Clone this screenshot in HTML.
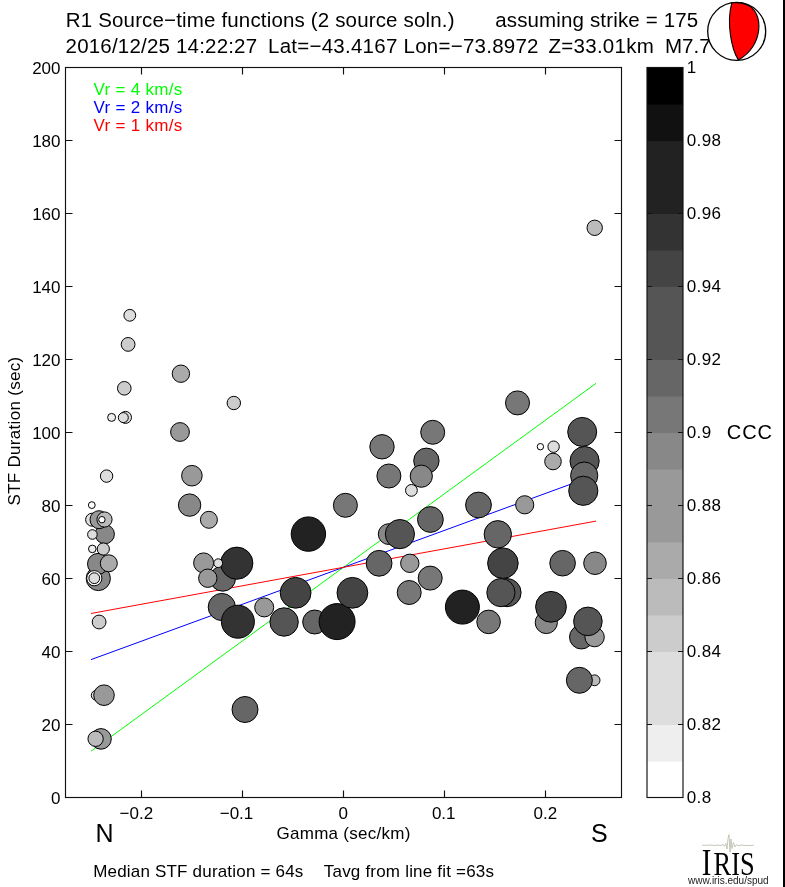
<!DOCTYPE html><html><head><meta charset="utf-8"><style>html,body{margin:0;padding:0;background:#fff;width:785px;height:887px;overflow:hidden}svg{display:block;will-change:transform}text{font-family:"Liberation Sans",sans-serif;fill:#000;white-space:pre}</style></head><body>
<svg width="785" height="887" viewBox="0 0 785 887">
<rect width="785" height="887" fill="#fff"/>
<text x="65.80" y="26.90" font-size="20.5" letter-spacing="0.16">R1 Source−time functions (2 source soln.)</text>
<text x="495.20" y="26.90" font-size="20.5" letter-spacing="0.15">assuming strike = 175</text>
<text x="65.60" y="52.60" font-size="20.5" letter-spacing="0.19">2016/12/25 14:22:27</text>
<text x="268.00" y="52.60" font-size="20.5" letter-spacing="0.25">Lat=−43.4167 Lon=−73.8972</text>
<text x="548.50" y="52.60" font-size="20.5" letter-spacing="0.27">Z=33.01km</text>
<text x="665.00" y="52.60" font-size="20.5">M7.7</text>
<line x1="91.00" y1="751.25" x2="596.00" y2="383.33" stroke="#00ff00" stroke-width="1.0"/>
<line x1="91.00" y1="659.64" x2="596.00" y2="474.95" stroke="#0000ff" stroke-width="1.0"/>
<line x1="91.00" y1="613.47" x2="596.00" y2="521.12" stroke="#ff0000" stroke-width="1.0"/>
<text x="93.50" y="94.50" font-size="17" letter-spacing="0.30" style="fill:#00ff00">Vr = 4 km/s</text>
<text x="93.50" y="112.90" font-size="17" letter-spacing="0.30" style="fill:#0000ff">Vr = 2 km/s</text>
<text x="93.50" y="131.20" font-size="17" letter-spacing="0.30" style="fill:#ff0000">Vr = 1 km/s</text>
<circle cx="129.8" cy="315.3" r="5.90" fill="rgb(221,221,221)" stroke="#000" stroke-width="1"/>
<circle cx="128.1" cy="344.4" r="6.90" fill="rgb(204,204,204)" stroke="#000" stroke-width="1"/>
<circle cx="180.9" cy="373.7" r="8.70" fill="rgb(170,170,170)" stroke="#000" stroke-width="1"/>
<circle cx="124.3" cy="388.3" r="6.80" fill="rgb(204,204,204)" stroke="#000" stroke-width="1"/>
<circle cx="233.8" cy="403.0" r="6.70" fill="rgb(204,204,204)" stroke="#000" stroke-width="1"/>
<circle cx="111.6" cy="417.4" r="4.00" fill="rgb(238,238,238)" stroke="#000" stroke-width="1"/>
<circle cx="125.5" cy="417.4" r="6.00" fill="rgb(221,221,221)" stroke="#000" stroke-width="1"/>
<circle cx="123.3" cy="417.6" r="5.00" fill="rgb(221,221,221)" stroke="#000" stroke-width="1"/>
<circle cx="180.0" cy="432.0" r="9.40" fill="rgb(153,153,153)" stroke="#000" stroke-width="1"/>
<circle cx="191.9" cy="475.7" r="10.30" fill="rgb(153,153,153)" stroke="#000" stroke-width="1"/>
<circle cx="106.6" cy="476.1" r="6.20" fill="rgb(221,221,221)" stroke="#000" stroke-width="1"/>
<circle cx="91.8" cy="505.1" r="3.40" fill="rgb(255,255,255)" stroke="#000" stroke-width="1"/>
<circle cx="189.6" cy="505.1" r="11.20" fill="rgb(136,136,136)" stroke="#000" stroke-width="1"/>
<circle cx="208.9" cy="519.8" r="8.50" fill="rgb(170,170,170)" stroke="#000" stroke-width="1"/>
<circle cx="98.3" cy="578.5" r="12.10" fill="rgb(136,136,136)" stroke="#000" stroke-width="1"/>
<circle cx="98.0" cy="563.9" r="10.50" fill="rgb(136,136,136)" stroke="#000" stroke-width="1"/>
<circle cx="108.8" cy="563.3" r="8.50" fill="rgb(170,170,170)" stroke="#000" stroke-width="1"/>
<circle cx="94.3" cy="578.2" r="7.60" fill="rgb(255,255,255)" stroke="#000" stroke-width="1"/>
<circle cx="94.3" cy="578.2" r="5.40" fill="rgb(221,221,221)" stroke="#000" stroke-width="1"/>
<circle cx="104.8" cy="534.2" r="9.60" fill="rgb(136,136,136)" stroke="#000" stroke-width="1"/>
<circle cx="103.3" cy="549.0" r="6.10" fill="rgb(204,204,204)" stroke="#000" stroke-width="1"/>
<circle cx="92.3" cy="548.9" r="3.80" fill="rgb(238,238,238)" stroke="#000" stroke-width="1"/>
<circle cx="92.4" cy="534.5" r="4.80" fill="rgb(221,221,221)" stroke="#000" stroke-width="1"/>
<circle cx="92.1" cy="519.7" r="6.50" fill="rgb(221,221,221)" stroke="#000" stroke-width="1"/>
<circle cx="99.0" cy="519.7" r="9.00" fill="rgb(153,153,153)" stroke="#000" stroke-width="1"/>
<circle cx="104.5" cy="519.5" r="7.60" fill="rgb(187,187,187)" stroke="#000" stroke-width="1"/>
<circle cx="101.9" cy="519.7" r="3.20" fill="rgb(255,255,255)" stroke="#000" stroke-width="1"/>
<circle cx="99.1" cy="622.0" r="6.90" fill="rgb(204,204,204)" stroke="#000" stroke-width="1"/>
<circle cx="96.2" cy="695.3" r="4.90" fill="rgb(221,221,221)" stroke="#000" stroke-width="1"/>
<circle cx="104.0" cy="695.2" r="10.30" fill="rgb(153,153,153)" stroke="#000" stroke-width="1"/>
<circle cx="101.0" cy="738.9" r="10.30" fill="rgb(153,153,153)" stroke="#000" stroke-width="1"/>
<circle cx="95.6" cy="738.8" r="7.65" fill="rgb(187,187,187)" stroke="#000" stroke-width="1"/>
<circle cx="245.0" cy="709.5" r="13.00" fill="rgb(102,102,102)" stroke="#000" stroke-width="1"/>
<circle cx="594.7" cy="227.8" r="7.70" fill="rgb(187,187,187)" stroke="#000" stroke-width="1"/>
<circle cx="222.8" cy="578.5" r="12.70" fill="rgb(102,102,102)" stroke="#000" stroke-width="1"/>
<circle cx="203.6" cy="562.9" r="10.00" fill="rgb(153,153,153)" stroke="#000" stroke-width="1"/>
<circle cx="236.8" cy="563.2" r="16.10" fill="rgb(51,51,51)" stroke="#000" stroke-width="1"/>
<circle cx="218.2" cy="563.2" r="4.40" fill="rgb(221,221,221)" stroke="#000" stroke-width="1"/>
<circle cx="207.8" cy="578.2" r="9.20" fill="rgb(153,153,153)" stroke="#000" stroke-width="1"/>
<circle cx="221.8" cy="607.0" r="13.60" fill="rgb(102,102,102)" stroke="#000" stroke-width="1"/>
<circle cx="237.9" cy="621.7" r="16.50" fill="rgb(51,51,51)" stroke="#000" stroke-width="1"/>
<circle cx="264.2" cy="607.4" r="9.50" fill="rgb(153,153,153)" stroke="#000" stroke-width="1"/>
<circle cx="295.6" cy="592.8" r="15.40" fill="rgb(68,68,68)" stroke="#000" stroke-width="1"/>
<circle cx="284.1" cy="622.0" r="14.20" fill="rgb(85,85,85)" stroke="#000" stroke-width="1"/>
<circle cx="314.7" cy="622.0" r="12.00" fill="rgb(102,102,102)" stroke="#000" stroke-width="1"/>
<circle cx="337.1" cy="621.6" r="18.00" fill="rgb(34,34,34)" stroke="#000" stroke-width="1"/>
<circle cx="352.4" cy="592.8" r="15.40" fill="rgb(68,68,68)" stroke="#000" stroke-width="1"/>
<circle cx="345.4" cy="505.3" r="12.00" fill="rgb(119,119,119)" stroke="#000" stroke-width="1"/>
<circle cx="308.4" cy="534.1" r="17.20" fill="rgb(34,34,34)" stroke="#000" stroke-width="1"/>
<circle cx="388.7" cy="534.1" r="10.40" fill="rgb(136,136,136)" stroke="#000" stroke-width="1"/>
<circle cx="399.9" cy="534.1" r="14.60" fill="rgb(85,85,85)" stroke="#000" stroke-width="1"/>
<circle cx="379.1" cy="563.3" r="12.90" fill="rgb(102,102,102)" stroke="#000" stroke-width="1"/>
<circle cx="432.7" cy="432.3" r="12.00" fill="rgb(119,119,119)" stroke="#000" stroke-width="1"/>
<circle cx="382.0" cy="446.8" r="12.20" fill="rgb(119,119,119)" stroke="#000" stroke-width="1"/>
<circle cx="426.4" cy="460.8" r="12.70" fill="rgb(102,102,102)" stroke="#000" stroke-width="1"/>
<circle cx="388.9" cy="476.0" r="12.00" fill="rgb(119,119,119)" stroke="#000" stroke-width="1"/>
<circle cx="421.3" cy="476.2" r="11.10" fill="rgb(136,136,136)" stroke="#000" stroke-width="1"/>
<circle cx="411.4" cy="490.4" r="5.90" fill="rgb(221,221,221)" stroke="#000" stroke-width="1"/>
<circle cx="478.5" cy="505.0" r="12.90" fill="rgb(102,102,102)" stroke="#000" stroke-width="1"/>
<circle cx="430.4" cy="519.5" r="12.90" fill="rgb(102,102,102)" stroke="#000" stroke-width="1"/>
<circle cx="517.5" cy="402.9" r="12.00" fill="rgb(119,119,119)" stroke="#000" stroke-width="1"/>
<circle cx="540.4" cy="446.7" r="3.20" fill="rgb(255,255,255)" stroke="#000" stroke-width="1"/>
<circle cx="553.6" cy="446.7" r="5.70" fill="rgb(221,221,221)" stroke="#000" stroke-width="1"/>
<circle cx="553.0" cy="461.5" r="8.30" fill="rgb(170,170,170)" stroke="#000" stroke-width="1"/>
<circle cx="582.2" cy="431.9" r="14.50" fill="rgb(85,85,85)" stroke="#000" stroke-width="1"/>
<circle cx="584.6" cy="461.1" r="14.60" fill="rgb(85,85,85)" stroke="#000" stroke-width="1"/>
<circle cx="584.2" cy="475.6" r="13.60" fill="rgb(102,102,102)" stroke="#000" stroke-width="1"/>
<circle cx="583.3" cy="490.8" r="14.60" fill="rgb(85,85,85)" stroke="#000" stroke-width="1"/>
<circle cx="524.7" cy="504.8" r="9.10" fill="rgb(153,153,153)" stroke="#000" stroke-width="1"/>
<circle cx="497.8" cy="534.3" r="13.70" fill="rgb(102,102,102)" stroke="#000" stroke-width="1"/>
<circle cx="409.8" cy="563.3" r="9.20" fill="rgb(153,153,153)" stroke="#000" stroke-width="1"/>
<circle cx="430.2" cy="578.1" r="12.00" fill="rgb(119,119,119)" stroke="#000" stroke-width="1"/>
<circle cx="409.2" cy="592.5" r="12.00" fill="rgb(119,119,119)" stroke="#000" stroke-width="1"/>
<circle cx="462.4" cy="607.1" r="17.00" fill="rgb(34,34,34)" stroke="#000" stroke-width="1"/>
<circle cx="488.6" cy="621.9" r="11.80" fill="rgb(119,119,119)" stroke="#000" stroke-width="1"/>
<circle cx="502.9" cy="563.2" r="15.30" fill="rgb(68,68,68)" stroke="#000" stroke-width="1"/>
<circle cx="507.0" cy="592.6" r="14.10" fill="rgb(85,85,85)" stroke="#000" stroke-width="1"/>
<circle cx="500.9" cy="592.6" r="14.10" fill="rgb(85,85,85)" stroke="#000" stroke-width="1"/>
<circle cx="562.6" cy="563.2" r="12.80" fill="rgb(102,102,102)" stroke="#000" stroke-width="1"/>
<circle cx="595.0" cy="563.2" r="11.30" fill="rgb(136,136,136)" stroke="#000" stroke-width="1"/>
<circle cx="546.3" cy="622.5" r="11.10" fill="rgb(136,136,136)" stroke="#000" stroke-width="1"/>
<circle cx="551.0" cy="606.8" r="15.40" fill="rgb(68,68,68)" stroke="#000" stroke-width="1"/>
<circle cx="581.4" cy="637.1" r="11.90" fill="rgb(102,102,102)" stroke="#000" stroke-width="1"/>
<circle cx="594.6" cy="637.1" r="9.70" fill="rgb(153,153,153)" stroke="#000" stroke-width="1"/>
<circle cx="587.9" cy="621.4" r="14.30" fill="rgb(85,85,85)" stroke="#000" stroke-width="1"/>
<circle cx="594.6" cy="680.3" r="5.40" fill="rgb(187,187,187)" stroke="#000" stroke-width="1"/>
<circle cx="579.4" cy="680.3" r="13.00" fill="rgb(102,102,102)" stroke="#000" stroke-width="1"/>
<g stroke="#111" stroke-width="1.15" fill="none">
<rect x="65.5" y="67.5" width="556" height="730"/>
<path d="M65.5 797.50h7M621.5 797.50h-7M65.5 724.50h7M621.5 724.50h-7M65.5 651.50h7M621.5 651.50h-7M65.5 578.50h7M621.5 578.50h-7M65.5 505.50h7M621.5 505.50h-7M65.5 432.50h7M621.5 432.50h-7M65.5 359.50h7M621.5 359.50h-7M65.5 286.50h7M621.5 286.50h-7M65.5 213.50h7M621.5 213.50h-7M65.5 140.50h7M621.5 140.50h-7M65.5 67.50h7M621.5 67.50h-7M141.50 797.5v-7M141.50 67.5v7M242.50 797.5v-7M242.50 67.5v7M343.50 797.5v-7M343.50 67.5v7M444.50 797.5v-7M444.50 67.5v7M545.50 797.5v-7M545.50 67.5v7"/>
</g>
<text x="60.50" y="803.50" font-size="17" text-anchor="end">0</text>
<text x="60.50" y="730.50" font-size="17" text-anchor="end">20</text>
<text x="60.50" y="657.50" font-size="17" text-anchor="end">40</text>
<text x="60.50" y="584.50" font-size="17" text-anchor="end">60</text>
<text x="60.50" y="511.50" font-size="17" text-anchor="end">80</text>
<text x="60.50" y="438.50" font-size="17" text-anchor="end">100</text>
<text x="60.50" y="365.50" font-size="17" text-anchor="end">120</text>
<text x="60.50" y="292.50" font-size="17" text-anchor="end">140</text>
<text x="60.50" y="219.50" font-size="17" text-anchor="end">160</text>
<text x="60.50" y="146.50" font-size="17" text-anchor="end">180</text>
<text x="60.50" y="73.50" font-size="17" text-anchor="end">200</text>
<text x="136.35" y="818.50" font-size="17" text-anchor="middle">−0.2</text>
<text x="236.50" y="818.50" font-size="17" text-anchor="middle">−0.1</text>
<text x="343.35" y="818.50" font-size="17" text-anchor="middle">0</text>
<text x="443.70" y="818.50" font-size="17" text-anchor="middle">0.1</text>
<text x="545.35" y="818.50" font-size="17" text-anchor="middle">0.2</text>
<text x="95.60" y="842.30" font-size="25">N</text>
<text x="590.90" y="842.30" font-size="25">S</text>
<text x="276.50" y="839.00" font-size="17" letter-spacing="0.27">Gamma (sec/km)</text>
<text x="0" y="0" font-size="17" letter-spacing="0.3" transform="translate(20.0,505.5) rotate(-90)">STF Duration (sec)</text>
<text x="93.20" y="876.60" font-size="17" letter-spacing="0.19">Median STF duration = 64s</text>
<text x="323.80" y="876.60" font-size="17" letter-spacing="0.20">Tavg from line fit =63s</text>
<rect x="647.0" y="761.00" width="36.0" height="36.50" fill="rgb(255,255,255)"/>
<rect x="647.0" y="724.50" width="36.0" height="37.00" fill="rgb(238,238,238)"/>
<rect x="647.0" y="688.00" width="36.0" height="37.00" fill="rgb(221,221,221)"/>
<rect x="647.0" y="651.50" width="36.0" height="37.00" fill="rgb(221,221,221)"/>
<rect x="647.0" y="615.00" width="36.0" height="37.00" fill="rgb(204,204,204)"/>
<rect x="647.0" y="578.50" width="36.0" height="37.00" fill="rgb(187,187,187)"/>
<rect x="647.0" y="542.00" width="36.0" height="37.00" fill="rgb(170,170,170)"/>
<rect x="647.0" y="505.50" width="36.0" height="37.00" fill="rgb(153,153,153)"/>
<rect x="647.0" y="469.00" width="36.0" height="37.00" fill="rgb(153,153,153)"/>
<rect x="647.0" y="432.50" width="36.0" height="37.00" fill="rgb(136,136,136)"/>
<rect x="647.0" y="396.00" width="36.0" height="37.00" fill="rgb(119,119,119)"/>
<rect x="647.0" y="359.50" width="36.0" height="37.00" fill="rgb(102,102,102)"/>
<rect x="647.0" y="323.00" width="36.0" height="37.00" fill="rgb(85,85,85)"/>
<rect x="647.0" y="286.50" width="36.0" height="37.00" fill="rgb(85,85,85)"/>
<rect x="647.0" y="250.00" width="36.0" height="37.00" fill="rgb(68,68,68)"/>
<rect x="647.0" y="213.50" width="36.0" height="37.00" fill="rgb(51,51,51)"/>
<rect x="647.0" y="177.00" width="36.0" height="37.00" fill="rgb(34,34,34)"/>
<rect x="647.0" y="140.50" width="36.0" height="37.00" fill="rgb(34,34,34)"/>
<rect x="647.0" y="104.00" width="36.0" height="37.00" fill="rgb(17,17,17)"/>
<rect x="647.0" y="67.50" width="36.0" height="37.00" fill="rgb(0,0,0)"/>
<g stroke="#111" stroke-width="1.15" fill="none"><rect x="647.0" y="67.5" width="36.0" height="730"/>
<path d="M647.0 797.50h5M683.0 797.50h-5M647.0 724.50h5M683.0 724.50h-5M647.0 651.50h5M683.0 651.50h-5M647.0 578.50h5M683.0 578.50h-5M647.0 505.50h5M683.0 505.50h-5M647.0 432.50h5M683.0 432.50h-5M647.0 359.50h5M683.0 359.50h-5M647.0 286.50h5M683.0 286.50h-5M647.0 213.50h5M683.0 213.50h-5M647.0 140.50h5M683.0 140.50h-5M647.0 67.50h5M683.0 67.50h-5"/></g>
<text x="686.70" y="803.40" font-size="17" letter-spacing="0.40">0.8</text>
<text x="686.70" y="730.40" font-size="17" letter-spacing="0.40">0.82</text>
<text x="686.70" y="657.40" font-size="17" letter-spacing="0.40">0.84</text>
<text x="686.70" y="584.40" font-size="17" letter-spacing="0.40">0.86</text>
<text x="686.70" y="511.40" font-size="17" letter-spacing="0.40">0.88</text>
<text x="686.70" y="438.40" font-size="17" letter-spacing="0.40">0.9</text>
<text x="686.70" y="365.40" font-size="17" letter-spacing="0.40">0.92</text>
<text x="686.70" y="292.40" font-size="17" letter-spacing="0.40">0.94</text>
<text x="686.70" y="219.40" font-size="17" letter-spacing="0.40">0.96</text>
<text x="686.70" y="146.40" font-size="17" letter-spacing="0.40">0.98</text>
<text x="686.70" y="73.40" font-size="17" letter-spacing="0.40">1</text>
<text x="726.80" y="439.30" font-size="20" letter-spacing="0.90">CCC</text>
<circle cx="736.7" cy="31.4" r="29.0" fill="#fff" stroke="#000" stroke-width="1.3"/>
<path d="M731.8 2.9 A29 29 0 0 1 747.4 5.0 C764 12 764 46 738.3 59.9 C731 48 726.5 22 731.8 2.9 Z" fill="#ff0000" stroke="#000" stroke-width="1.1"/>
<path d="M702.2 845.3 L712 845.1 L714 845.6 L718 845.0 L721 845.7 L723 844.2 L724.5 846.4 L726 843.5 L727 849 L728 838.5 L729 834.6 L730 852.2 L731 839 L732 848.5 L733.5 842.5 L735 847 L736.5 844.5 L738 845.8 L742 845 L746 845.6 L753.8 845.3" stroke="#b8b8a8" stroke-width="0.8" fill="none"/>
<text x="0" y="0" font-size="38.5" transform="translate(701.8,875) scale(0.75,1)" style="font-family:'Liberation Serif',serif">I</text>
<text x="713.6" y="875" font-size="33.5" textLength="41" lengthAdjust="spacingAndGlyphs" style="font-family:'Liberation Serif',serif">RIS</text>
<text x="688.00" y="883.50" font-size="10" style="fill:#222">www.iris.edu/spud</text>
<rect x="783" y="0" width="2" height="887" fill="#000"/>
</svg></body></html>
